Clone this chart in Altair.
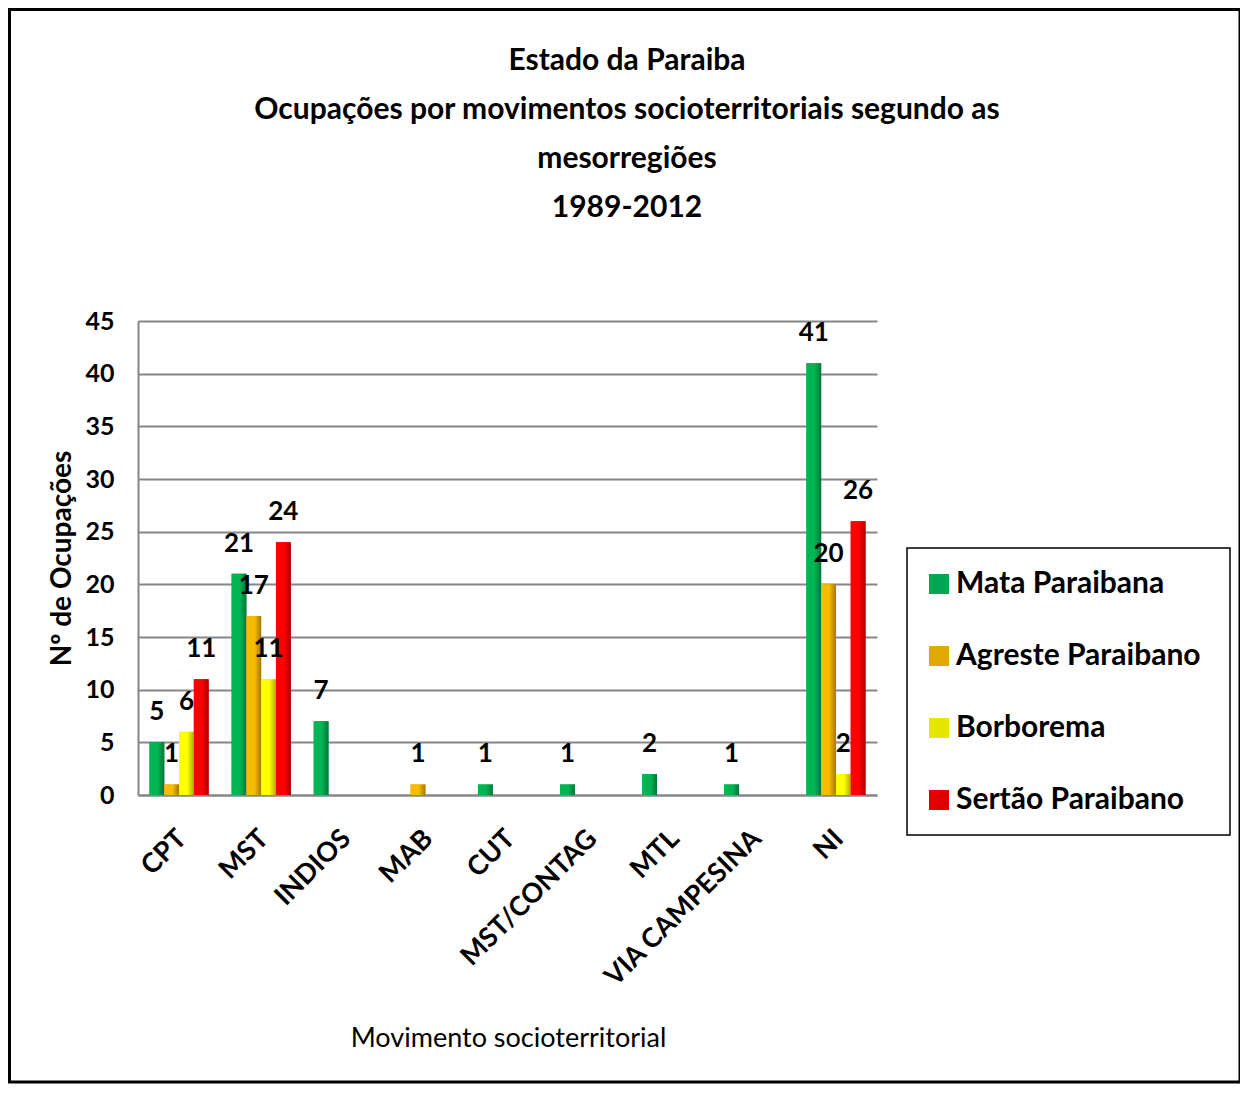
import altair as alt
import pandas as pd

movimentos = ["CPT", "MST", "INDIOS", "MAB", "CUT", "MST/CONTAG", "MTL", "VIA CAMPESINA", "NI"]
series = ["Mata Paraibana", "Agreste Paraibano", "Borborema", "Sertão Paraibano"]
mata = [5, 21, 7, 0, 1, 1, 2, 1, 41]
agreste = [1, 17, 0, 1, 0, 0, 0, 0, 20]
borborema = [6, 11, 0, 0, 0, 0, 0, 0, 2]
sertao = [11, 24, 0, 0, 0, 0, 0, 0, 26]
y_ticks = [0, 5, 10, 15, 20, 25, 30, 35, 40, 45]
title_lines = ["Estado da Paraiba",
               "Ocupações por movimentos socioterritoriais segundo as",
               "mesorregiões", "1989-2012"]

solid = ["#00a651", "#e0a800", "#e6e600", "#e00000"]
grad = [("#00b552", "#00753a"), ("#f7bb00", "#a57600"), ("#ffff00", "#aeae00"), ("#ff0000", "#aa0000")]

rows = []
for s, vals in zip(series, [mata, agreste, borborema, sertao]):
    for m, v in zip(movimentos, vals):
        rows.append({"mov": m, "serie": s, "valor": v})
df = pd.DataFrame(rows)

FONT = "Lato"
W, H = 739, 474

x_enc = alt.X("mov:N", sort=movimentos,
              scale=alt.Scale(paddingInner=0.28, paddingOuter=0.14),
              axis=alt.Axis(title="Movimento socioterritorial", labelAngle=-45,
                            labelFontSize=27, labelFontWeight="bold", labelPadding=30,
                            labelOffset=-6, labelLimit=400,
                            ticks=False, domainColor="#868686", domainWidth=2,
                            titleFontSize=27, titleFontWeight="normal",
                            titleY=243, titleBaseline="middle", titleX=370))
xo_enc = alt.XOffset("serie:N", sort=series,
                     scale=alt.Scale(domain=series, paddingInner=0, paddingOuter=0))
y_enc = alt.Y("valor:Q", scale=alt.Scale(domain=[0, 45], nice=False),
              axis=alt.Axis(title="Nº de Ocupações", values=y_ticks, ticks=False,
                            labelFontSize=25, labelFontWeight="bold", labelPadding=24,
                            gridColor="#868686", gridWidth=2,
                            domainColor="#868686", domainWidth=2,
                            titleFontSize=28, titleFontWeight="bold",
                            titleX=-76, titleY=237, titleBaseline="middle"))

base = alt.Chart(df)

bars = base.mark_bar().encode(
    x=x_enc, xOffset=xo_enc, y=y_enc,
    color=alt.Color("serie:N", sort=series,
                    scale=alt.Scale(domain=series, range=solid),
                    legend=alt.Legend(title=None, orient="none", legendX=786, legendY=248,
                                      symbolType="square", symbolSize=400, symbolStrokeWidth=0,
                                      labelFontSize=30, labelFontWeight="bold", labelFont=FONT,
                                      labelLimit=400,
                                      rowPadding=42, padding=0, labelOffset=2))
)

grad_layers = []
for s, (c1, c2) in zip(series, grad):
    g = alt.Gradient(gradient="linear", x1=0, x2=1, y1=0, y2=0,
                     stops=[alt.GradientStop(offset=0, color=c1),
                            alt.GradientStop(offset=0.55, color=c1),
                            alt.GradientStop(offset=1, color=c2)])
    grad_layers.append(
        base.mark_bar(color=g).encode(x=alt.X("mov:N", sort=movimentos),
                                      xOffset=alt.XOffset("serie:N", sort=series), y="valor:Q")
        .transform_filter(alt.datum.serie == s)
    )

labels = base.mark_text(baseline="alphabetic", dy=-22, fontSize=26, fontWeight="bold",
                        font=FONT, color="black").encode(
    x=alt.X("mov:N", sort=movimentos), xOffset=alt.XOffset("serie:N", sort=series),
    y="valor:Q", text="valor:Q"
).transform_filter(alt.datum.valor > 0)

one = pd.DataFrame({"a": [0]})
frame = alt.Chart(one).mark_rect(fill=None, stroke="black", strokeWidth=3).encode(
    x=alt.value(-128.5), x2=alt.value(1102), y=alt.value(-311.5), y2=alt.value(761))
legbox = alt.Chart(one).mark_rect(fill="white", stroke="black", strokeWidth=1.5).encode(
    x=alt.value(769), x2=alt.value(1092), y=alt.value(227), y2=alt.value(514))
title = alt.Chart(one).mark_text(text=title_lines, lineHeight=49, fontSize=30, font=FONT,
                                 fontWeight="bold", align="center", baseline="top",
                                 color="black").encode(
    x=alt.value(489), y=alt.value(-275))

chart = alt.layer(frame, legbox, title, bars, *grad_layers, labels).properties(
    width=W, height=H,
    autosize=alt.AutoSizeParams(type="none"),
    padding={"left": 130, "top": 313, "right": 363, "bottom": 291},
).configure(font=FONT).configure_view(stroke=None).configure_axis(
    labelColor="black", titleColor="black", labelFont=FONT, titleFont=FONT)

chart.save("out.html", embed_options={"renderer": "svg", "actions": False})
